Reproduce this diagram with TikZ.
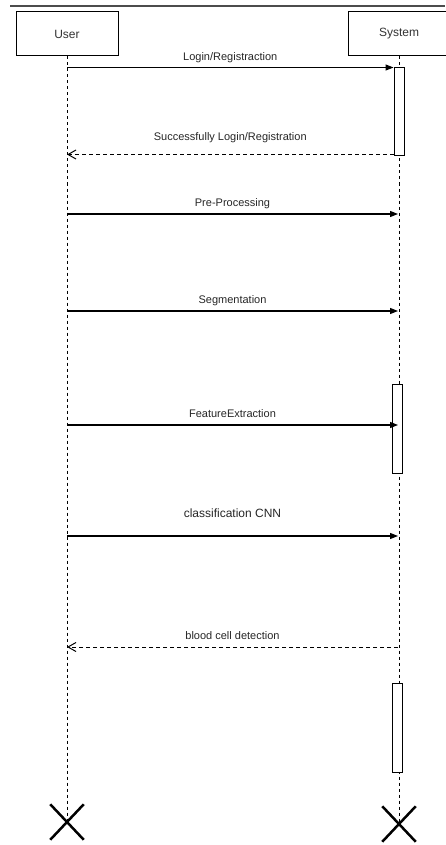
\documentclass[tikz,border=0pt]{standalone}
\usepackage{fontspec}
\setmainfont{Liberation Sans}
\usetikzlibrary{arrows.meta, shapes.misc, calc}

\begin{document}
\begin{tikzpicture}[x=1pt, y=-1pt,
	actor/.style={draw, line width=1pt, minimum width=102pt, minimum height=44pt, font=\fontsize{12}{14}\selectfont, text=black!80},
	actbox/.style={draw, fill=white, line width=1pt, minimum width=10pt, inner sep=0pt},
	life/.style={line width=0.9pt, dash pattern=on 3pt off 3pt},
	msg/.style={line width=1.2pt, -{Triangle[length=8pt, width=6pt]}},
	reply/.style={line width=1pt, dash pattern=on 4pt off 3pt, -{Straight Barb[length=8pt, width=9pt]}},
	lbl/.style={font=\fontsize{11}{13}\selectfont, text=black!85, text height=8.5pt, text depth=2.5pt},
	kill/.style={cross out, draw, line width=2.5pt, minimum width=31pt, minimum height=33pt, inner sep=0pt}]
	\useasboundingbox (0,0) rectangle (445,845);
	\draw[black!70, line width=1.2pt] (10,6) -- (445,6);

	% lifelines
	\node[actor] (user) at (67,34) {User};
	\node[actor] (system) at (399,34) {System};
	\node[kill] (userend) at (67,822) {};
	\node[kill] (sysend) at (399,824) {};
	\draw[life] (user.south) -- (userend.center);
	\draw[life] (system.south) -- (sysend.center);

	% activations
	\node[actbox, minimum height=88pt] (act1) at (399,112) {};
	\node[actbox, minimum height=89pt] (act2) at (397,428.5) {};
	\node[actbox, minimum height=89pt] (act3) at (397,727.5) {};

	\foreach \n/\y in {pre/214, seg/311, feat/425, cls/536, det/647}
	{
		\coordinate (u\n) at (67,\y);
		\coordinate (s\n) at (398,\y);
	}
	\coordinate (ret) at ($(act1.south west)+(0,-2)$);

	% messages
	\draw[msg] (user |- act1.north) -- node[lbl, above=1pt]{Login/Registraction} (act1.north west);
	\draw[reply] (ret) -- node[lbl, above=7.8pt]{Successfully Login/Registration} (user |- ret);
	\draw[msg] (upre) -- node[lbl, above=1pt]{Pre-Processing} (spre);
	\draw[msg] (useg) -- node[lbl, above=1pt]{Segmentation} (sseg);
	\draw[msg] (ufeat) -- node[lbl, above=1pt]{FeatureExtraction} (sfeat);
	\draw[msg] (ucls) -- node[lbl, font=\fontsize{12}{14}\selectfont, above=12.5pt]{classification CNN} (scls);
	\draw[reply] (sdet) -- node[lbl, above=1pt]{blood cell detection} (udet);
\end{tikzpicture}
\end{document}
